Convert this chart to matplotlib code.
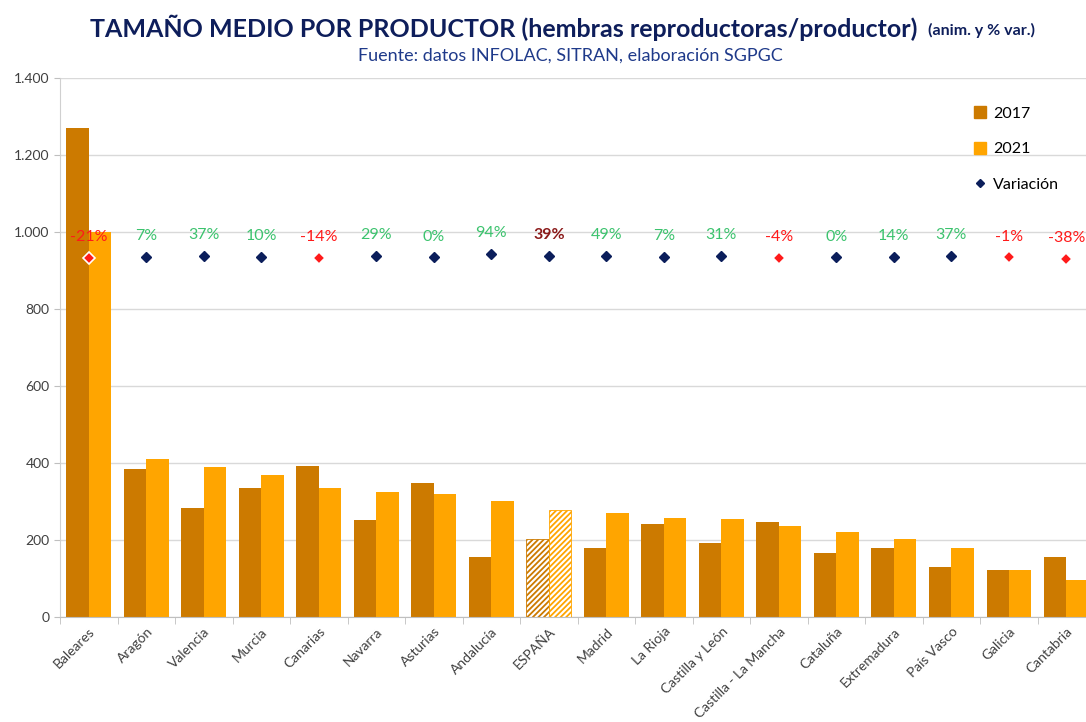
import matplotlib
matplotlib.use("Agg")
import matplotlib.pyplot as plt
from matplotlib.lines import Line2D
import numpy as np

plt.rcParams["font.family"] = ["Lato", "DejaVu Sans"]
plt.rcParams["hatch.linewidth"] = 1.3

regions = ["Baleares", "Aragón", "Valencia", "Murcia", "Canarias", "Navarra",
           "Asturias", "Andalucía", "ESPAÑA", "Madrid", "La Rioja",
           "Castilla y León", "Castilla - La Mancha", "Cataluña", "Extremadura",
           "País Vasco", "Galicia", "Cantabria"]
y2017 = [1270, 384, 283, 335, 392, 252, 348, 156, 202, 180, 241, 192, 247, 166, 179, 130, 121, 156]
y2021 = [1000, 410, 390, 368, 336, 325, 319, 301, 279, 270, 258, 254, 236, 221, 202, 179, 121, 96]
variation = [-21, 7, 37, 10, -14, 29, 0, 94, 39, 49, 7, 31, -4, 0, 14, 37, -1, -38]

c17 = "#CC7A00"
c21 = "#FFA500"
navy = "#0B1E5B"
green = "#3CC36E"
red = "#FF1A1A"

fig = plt.figure(figsize=(10.86, 7.22), dpi=100)
ax = fig.add_axes([60 / 1086, 105 / 722, 1026 / 1086, 539 / 722])

x = np.arange(len(regions))
w = 0.39
spain = regions.index("ESPAÑA")
for i in x:
    if i == spain:
        ax.bar(i - w / 2, y2017[i], w, facecolor="white", edgecolor=c17,
               hatch="//////", linewidth=0.6, zorder=2)
        ax.bar(i + w / 2, y2021[i], w, facecolor="white", edgecolor=c21,
               hatch="//////", linewidth=0.6, zorder=2)
    else:
        ax.bar(i - w / 2, y2017[i], w, color=c17, zorder=2)
        ax.bar(i + w / 2, y2021[i], w, color=c21, zorder=2)

ax.set_xlim(-0.5, 17.34)
ax.set_ylim(0, 1400)
ax.set_yticks(range(0, 1401, 200))
ax.set_yticklabels([f"{v:,}".replace(",", ".") for v in range(0, 1401, 200)])
ax.grid(axis="y", color="#D9D9D9", linewidth=1, zorder=0)
ax.set_axisbelow(True)

ax.set_xticks(x)
ax.set_xticklabels(regions, rotation=45, ha="right", rotation_mode="anchor",
                   fontsize=10, color="#404040")
ax.set_xticks(np.arange(-0.5, 17.5, 1), minor=True)
ax.tick_params(axis="x", which="major", length=0, pad=6)
ax.tick_params(axis="x", which="minor", length=5, color="#BFBFBF")
ax.tick_params(axis="y", length=4, color="#BFBFBF", labelsize=10, labelcolor="#404040")
for s in ["top", "right"]:
    ax.spines[s].set_visible(False)
ax.spines["left"].set_color("#D0D0D0")
ax.spines["bottom"].set_color("#BFBFBF")

# variation markers on a secondary axis
ax2 = ax.twinx()
ax2.set_ylim(-94.6, 47.2)
ax2.axis("off")
var = np.array(variation) / 100
for i in x:
    if variation[i] < 0:
        ax2.plot(i, var[i], marker="D", color=red, markeredgecolor="white",
                 markersize=6.5, markeredgewidth=1.2, zorder=5)
        tcol = red
    else:
        ax2.plot(i, var[i], marker="D", color=navy, markersize=5, zorder=5)
        tcol = green
    weight = "normal"
    if i == spain:
        tcol = "#8B1A1A"
        weight = "bold"
    ax2.annotate(f"{variation[i]}%", (i, var[i]), xytext=(0, 15),
                 textcoords="offset points", ha="center", va="center",
                 fontsize=11.5, color=tcol, fontweight=weight)

handles = [
    Line2D([], [], marker="s", color=c17, linestyle="", markersize=8),
    Line2D([], [], marker="s", color=c21, linestyle="", markersize=8),
    Line2D([], [], marker="D", color=navy, linestyle="", markersize=4.5),
]
ax2.legend(handles, ["2017", "2021", "Variación"], loc="upper left",
           bbox_to_anchor=(958 / 1086, 1 - 92 / 722), bbox_transform=fig.transFigure,
           frameon=False, fontsize=11.5, labelspacing=1.35, handletextpad=0.3,
           handlelength=1.0)

fig.text(90 / 1086, 1 - 28 / 722, "TAMAÑO MEDIO POR PRODUCTOR (hembras reproductoras/productor)",
         ha="left", va="center", fontsize=18, fontweight="bold", color="#0E1E5B")
fig.text(928 / 1086, 1 - 30 / 722, "(anim. y % var.)", ha="left", va="center",
         fontsize=11.5, fontweight="bold", color="#0E1E5B")
fig.text(570 / 1086, 1 - 56 / 722, "Fuente: datos INFOLAC, SITRAN, elaboración SGPGC",
         ha="center", va="center", fontsize=13, color="#1F3A8A")

fig.savefig("out.png", dpi=100)
